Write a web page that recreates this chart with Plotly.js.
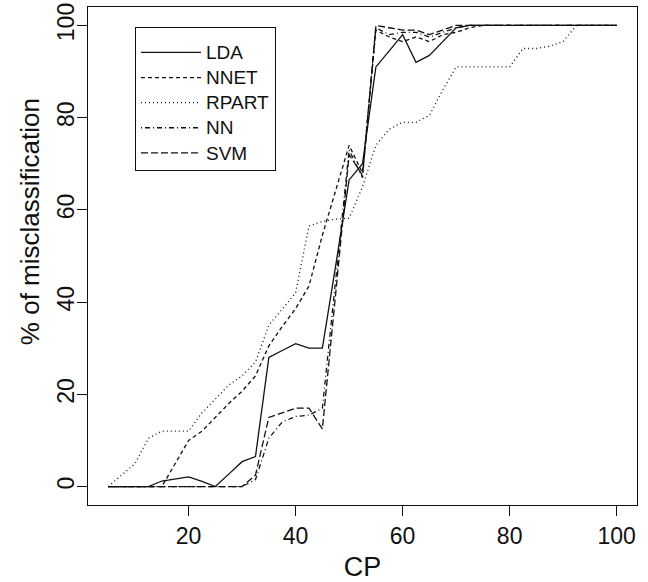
<!DOCTYPE html>
<html>
<head>
<meta charset="utf-8">
<script src="https://cdn.plot.ly/plotly-3.0.1.min.js"></script>
<style>html,body{margin:0;padding:0;background:#fff;}#chart{width:648px;height:582px;}</style>
</head>
<body>
<div id="chart"></div>
<script>
const cp = [5,7.5,10,12.5,15,17.5,20,22.5,25,27.5,30,32.5,35,37.5,40,42.5,45,47.5,50,52.5,55,57.5,60,62.5,65,67.5,70,72.5,75,77.5,80,82.5,85,87.5,90,92.5,95,97.5,100];
const lda = [0,0,0,0,1.2,1.6,2.1,1.1,0,2.7,5.4,6.5,28,29.5,31,30,30,48,66.5,70,91,94.5,98,92,93.5,96.5,99.5,100,100,100,100,100,100,100,100,100,100,100,100];
const nnet = [0,0,0,0,0,5,10,12,15,18,20.7,24,30.5,34.7,38.6,43.5,54.5,64.5,74,68,99,97.5,96.5,97.5,96.5,98,98.5,99.5,100,100,100,100,100,100,100,100,100,100,100];
const rpart = [0,2.5,5,10.5,12,12,12,16,19,22,24,27,35,38.5,42,56.5,57.5,58,58.2,65,74,77.5,79,79,80.5,86,91,91,91,91,91,95,95,95.5,96.5,100,100,100,100];
const nn = [0,0,0,0,0,0,0,0,0,0,0,1.5,10.5,14,15.2,15.5,17,45,73,67,99.5,98,98.5,98.5,97.5,98.5,99.5,100,100,100,100,100,100,100,100,100,100,100,100];
const svm = [0,0,0,0,0,0,0,0,0,0,0,2.5,15,16,17,17,12.5,42,72,67.5,100,99.5,99,99,98,99,100,100,100,100,100,100,100,100,100,100,100,100,100];
const seriesNames = ["LDA","NNET","RPART","NN","SVM"];
const xTicks = [20,40,60,80,100];
const yTicks = [0,20,40,60,80,100];

const ink = "#111";
const dashes = ["solid","4px,3px","1px,3px","1px,3px,5px,3px","7px,3px"];
const ys = [lda, nnet, rpart, nn, svm];
const traces = ys.map((y,i)=>({
  x: cp, y: y, type: "scatter", mode: "lines",
  name: '<span style="font-size:19px">' + seriesNames[i] + '</span>',
  line: {color: ink, width: 1.3, dash: dashes[i]}
}));

const font = "'Liberation Sans', Arial, Helvetica, sans-serif";
const layout = {
  width: 648, height: 582,
  margin: {l: 88, r: 11, t: 7, b: 77},
  paper_bgcolor: "#fff", plot_bgcolor: "#fff",
  font: {family: font, color: ink},
  showlegend: true,
  legend: {
    x: 0.0856, y: 0.959, xanchor: "left", yanchor: "top",
    bordercolor: ink, borderwidth: 1, bgcolor: "#fff",
    font: {size: 17, family: font, color: ink},
    title: {text: " ", font: {size: 5, family: font, color: ink}},
    itemwidth: 60, tracegroupgap: 0
  },
  xaxis: {
    range: [1.2, 103.8], tickvals: xTicks, ticktext: xTicks.map(String),
    ticks: "outside", ticklen: 10, tickwidth: 1, tickcolor: ink,
    showline: true, mirror: true, linecolor: ink, linewidth: 1,
    showgrid: false, zeroline: false,
    tickfont: {size: 23, family: font, color: ink},
    title: {text: "CP", font: {size: 27, family: font, color: ink}, standoff: 10}
  },
  yaxis: {
    range: [-4, 104], tickvals: yTicks, ticktext: yTicks.map(String),
    ticks: "outside", ticklen: 10, tickwidth: 1, tickcolor: ink,
    showline: true, mirror: true, linecolor: ink, linewidth: 1,
    showgrid: false, zeroline: false, tickangle: -90, ticklabelstandoff: -6,
    tickfont: {size: 23, family: font, color: ink}
  },
  annotations: [{
    text: "% of misclassification", xref: "paper", yref: "paper",
    x: -0.1056, y: 0.568, xanchor: "center", yanchor: "middle",
    textangle: -90, showarrow: false,
    font: {size: 26, family: font, color: ink}
  }]
};
Plotly.newPlot("chart", traces, layout, {displayModeBar: false, staticPlot: true});
</script>
</body>
</html>
